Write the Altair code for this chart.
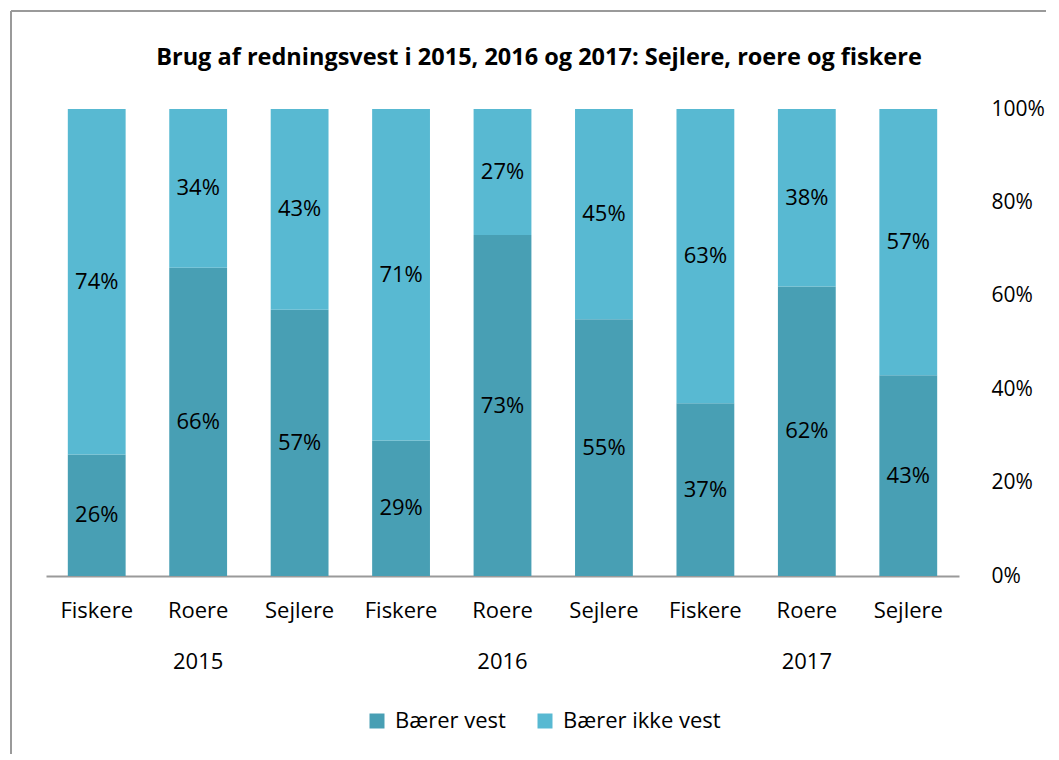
import altair as alt
import pandas as pd

years = ["2015", "2016", "2017"]
groups = ["Fiskere", "Roere", "Sejlere"]
vest = [26, 66, 57, 29, 73, 55, 37, 62, 43]
ikke_vest = [74, 34, 43, 71, 27, 45, 63, 38, 57]
series = ["Bærer vest", "Bærer ikke vest"]
colors = ["#489fb4", "#58b9d2"]
title_text = "Brug af redningsvest i 2015, 2016 og 2017: Sejlere, roere og fiskere"

rows = []
keys = []
i = 0
for y in years:
    for g in groups:
        k = f"{y}|{g}"
        keys.append(k)
        rows.append({"key": k, "serie": series[0], "ord": 0, "value": vest[i]})
        rows.append({"key": k, "serie": series[1], "ord": 1, "value": ikke_vest[i]})
        i += 1
df = pd.DataFrame(rows)

FONT = "Open Sans"
FS = 22

label_expr = ("split(datum.value,'|')[1] == 'Roere' ? "
              "[split(datum.value,'|')[1], split(datum.value,'|')[0]] : "
              "split(datum.value,'|')[1]")

base = alt.Chart(df).transform_stack(
    stack="value", groupby=["key"], as_=["y0", "y1"],
    sort=[alt.SortField("ord", order="ascending")]
).transform_calculate(
    mid="(datum.y0 + datum.y1) / 2",
    lab="datum.value + '%'"
)

x_enc = alt.X("key:N", sort=keys, title=None,
              scale=alt.Scale(paddingInner=0.43, paddingOuter=0.215),
              axis=alt.Axis(labelExpr=label_expr, labelFontSize=FS, labelFont=FONT,
                            labelColor="#000000", labelPadding=24, labelLineHeight=51,
                            labelAngle=0, ticks=False, domainColor="#9a9a9a",
                            domainWidth=2, labelOverlap=False))

bars = base.mark_bar().encode(
    x=x_enc,
    y=alt.Y("y0:Q", scale=alt.Scale(domain=[0, 100], nice=False), title=None,
            axis=alt.Axis(orient="right", values=[0, 20, 40, 60, 80, 100],
                          labelExpr="datum.value + '%'", grid=False, ticks=False,
                          domain=False, labelFontSize=FS - 1, labelFont=FONT,
                          labelColor="#000000", labelPadding=32, labelAlign="left")),
    y2="y1:Q",
    color=alt.Color("serie:N", scale=alt.Scale(domain=series, range=colors),
                    legend=alt.Legend(title=None, orient="none", legendX=320, legendY=601,
                                      direction="horizontal", symbolType="square",
                                      symbolSize=225, symbolStrokeWidth=0,
                                      labelFontSize=FS, labelFont=FONT, labelColor="#000000",
                                      columnPadding=28, labelOffset=7)),
)

texts = base.mark_text(fontSize=FS, font=FONT, color="#000000").encode(
    x=alt.X("key:N", sort=keys),
    y=alt.Y("mid:Q"),
    text="lab:N",
)

one = pd.DataFrame({"t": [title_text]})
title = alt.Chart(one).mark_text(fontSize=23.5, font=FONT, fontWeight="bold",
                                 color="#000000", align="center", baseline="middle").encode(
    x=alt.value(493), y=alt.value(-51), text="t:N")

border_v = alt.Chart(one).mark_rule(color="#9a9a9a", strokeWidth=2).encode(
    x=alt.value(-35), y=alt.value(-98), y2=alt.value(645))
border_h = alt.Chart(one).mark_rule(color="#9a9a9a", strokeWidth=2).encode(
    x=alt.value(-35), x2=alt.value(1000), y=alt.value(-98))

chart = alt.layer(bars, texts, title, border_v, border_h).properties(
    width=913, height=467, padding=2,
).configure_view(stroke=None)

chart.save("out.html", embed_options={"renderer": "svg", "actions": False})
